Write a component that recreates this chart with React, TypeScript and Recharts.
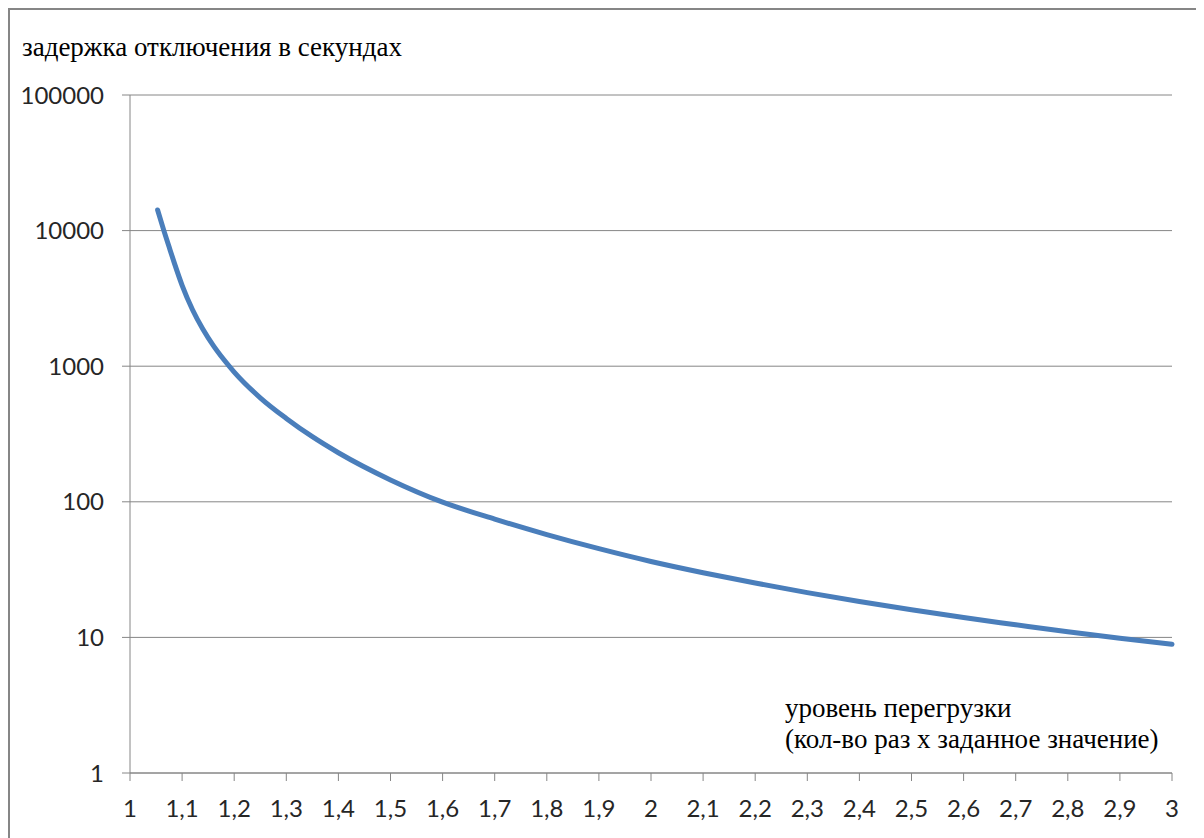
import { LineChart, Line, XAxis, YAxis, CartesianGrid } from "recharts";

// overload level (multiples of the set value) and trip delay in seconds
const overload = [1.053, 1.065, 1.075, 1.085, 1.1, 1.12, 1.14, 1.16, 1.18, 1.2, 1.25, 1.3, 1.35, 1.4, 1.5, 1.6, 1.7, 1.8, 1.9, 2.0, 2.1, 2.2, 2.3, 2.4, 2.5, 2.6, 2.7, 2.8, 2.9, 3.0];
const delay = [14200, 10000, 7590, 5780, 3950, 2610, 1875, 1420, 1120, 905, 585, 412, 302, 230, 145, 99.4, 74.5, 57.3, 45.1, 36.3, 30.0, 25.2, 21.4, 18.4, 16.0, 14.0, 12.4, 11.0, 9.84, 8.9];

const xTicks = [1, 1.1, 1.2, 1.3, 1.4, 1.5, 1.6, 1.7, 1.8, 1.9, 2, 2.1, 2.2, 2.3, 2.4, 2.5, 2.6, 2.7, 2.8, 2.9, 3];
const yTicks = [1, 10, 100, 1000, 10000, 100000];

const yTitle = "задержка отключения в секундах";
const xTitle1 = "уровень перегрузки";
const xTitle2 = "(кол-во раз х заданное значение)";

const data = overload.map((x, i) => ({ x, t: delay[i] }));

const GRID = "#868686";
const tickStyle = { fontFamily: "Lato, sans-serif", fontSize: 24, fill: "#262626" };
const serif = { fontFamily: '"Liberation Serif", serif', fontSize: 27, fill: "#000" };

export default function App() {
  return (
    <div
      style={{
        position: "relative",
        width: 1194,
        height: 830,
        boxSizing: "border-box",
        borderTop: `2px solid ${GRID}`,
        borderLeft: `2px solid ${GRID}`,
        borderRight: `2px solid ${GRID}`,
        background: "#fff",
      }}
    >
      <LineChart width={1190} height={828} data={data} margin={{ top: 85, right: 28, left: 0, bottom: 5 }}>
        <CartesianGrid stroke={GRID} vertical={false} />
        <XAxis
          dataKey="x"
          type="number"
          domain={[1, 3]}
          ticks={xTicks}
          height={60}
          tickSize={8}
          tickMargin={19}
          stroke={GRID}
          tick={tickStyle}
          tickFormatter={(v: number) => String(v).replace(".", ",")}
          interval={0}
        />
        <YAxis
          type="number"
          scale="log"
          domain={[1, 100000]}
          ticks={yTicks}
          width={120}
          tickSize={8}
          tickMargin={18}
          stroke={GRID}
          tick={tickStyle}
          interval={0}
          allowDataOverflow
        />
        <Line
          type="monotone"
          dataKey="t"
          stroke="#4A7EBB"
          strokeWidth={5}
          strokeLinecap="round"
          dot={false}
          isAnimationActive={false}
        />
      </LineChart>
      <svg width={1190} height={828} style={{ position: "absolute", left: 0, top: 0, pointerEvents: "none" }}>
        <text x={12} y={46} style={serif}>
          {yTitle}
        </text>
        <text x={775} y={707} style={serif}>
          {xTitle1}
        </text>
        <text x={775} y={738} style={serif}>
          {xTitle2}
        </text>
      </svg>
    </div>
  );
}
